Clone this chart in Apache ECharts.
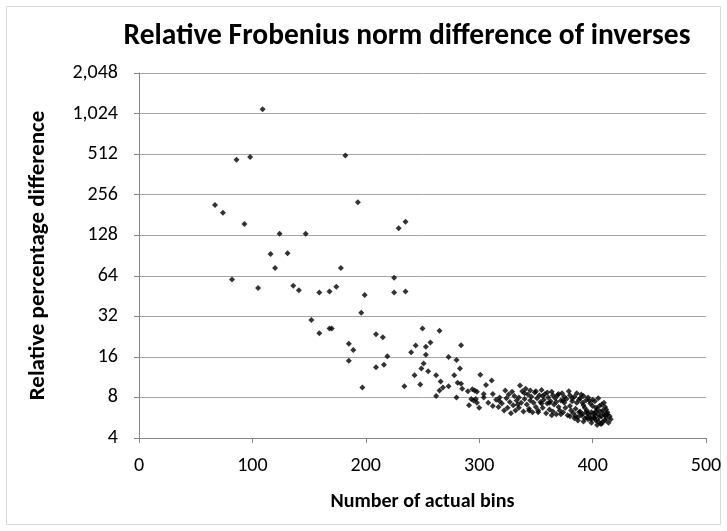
<!DOCTYPE html>
<html>
<head>
<meta charset="utf-8">
<script src="https://cdn.jsdelivr.net/npm/echarts@6/dist/echarts.min.js"></script>
<style>
  html, body { margin: 0; padding: 0; background: #fff; }
  #container { width: 727px; height: 531px; }
</style>
</head>
<body>
<div id="container"></div>
<script>
// tick labels
var xTicks = [0, 100, 200, 300, 400, 500]
var yTicks = [4, 8, 16, 32, 64, 128, 256, 512, 1024, 2048]

// number of actual bins (x) and relative percentage difference (y)
var actualBins = [
  109, 86, 98, 67, 74, 93, 124, 147, 116, 131,
  120, 82, 105, 136, 141, 159, 168, 152, 159, 168,
  174, 199, 196, 225, 235, 182, 193, 229, 235, 178, 225,
  170, 185, 189, 185, 197, 209, 215, 209, 216, 219, 234,
  250, 265, 240, 244, 253, 257, 253, 251, 249, 255, 243, 248, 262, 266, 268, 265, 262, 273, 273,
  284, 280, 283, 278, 281, 284, 285, 280, 290, 294, 296, 298, 293, 295, 297, 298, 291, 300,
  301, 306, 311, 304, 304, 308, 312, 312, 315, 318, 317,
  320, 322, 324, 325, 327, 328, 330, 331, 332, 333, 335, 336, 337, 338, 339, 340, 341, 342, 343, 344,
  345, 346, 347, 348, 349, 350, 351, 352, 353, 354, 355, 356, 357, 358, 359, 360, 361, 362, 363, 364,
  365, 366, 367, 368, 369, 370, 371, 372, 373, 374, 375, 376, 377, 378, 379, 380, 381, 382, 383, 384,
  385, 386, 387, 388, 389, 390, 391, 392, 393, 394, 395, 396, 397, 398, 399, 400, 401, 402, 403, 404,
  405, 406, 407, 408, 409, 410, 411, 412, 413, 414, 415, 416,
  382, 385, 388, 391, 393, 395, 397, 399, 401, 403, 405, 407, 409, 411, 396, 398, 402, 404, 406, 400,
  392, 386, 375, 370, 365, 360, 355, 350, 345, 340, 335, 326, 318, 323, 329, 334, 356, 362, 368, 374,
  380, 384, 389, 394, 410, 412, 408, 403,
  387, 392, 399, 402, 405, 408, 411, 413, 396, 390, 380, 372, 364, 352, 344
]
var relDiff = [
  1100, 465, 487, 215, 188, 155, 131, 131, 93, 94,
  73, 60, 52, 54, 50, 48, 49, 30, 24, 26,
  53, 46, 34, 48, 49, 500, 225, 144, 161, 73, 62,
  26, 20, 18, 15, 9.5, 23.6, 22.4, 13.4, 14, 16.2, 9.7,
  26, 25, 17.3, 19.4, 19, 20.5, 16.6, 14.3, 13.1, 12.5, 11.7, 10, 11.7, 10.5, 9.5, 9, 8.2, 9.7, 16,
  19.5, 15.2, 13.1, 11.7, 10.3, 10.1, 9.3, 8.0, 8.9, 9.2, 9.0, 8.8, 7.8, 7.6, 7.8, 7.3, 7.0, 6.7,
  11.8, 9.9, 10.7, 8.5, 8.0, 7.3, 8.5, 6.9, 7.7, 8.0, 6.8,
  7.2, 6.4, 7.9, 6.7, 7.4, 6.1, 7.0, 8.2, 6.4, 7.6, 6.7, 9.8, 7.3, 8.9, 6.3, 7.8, 9.3, 7.1, 8.4, 6.6,
  7.6, 8.1, 6.2, 7.3, 8.7, 6.8, 7.9, 6.4, 8.3, 7.4, 9.1, 6.7, 7.7, 8.5, 6.1, 7.2, 8.0, 6.5, 7.5, 8.8,
  6.3, 7.1, 7.9, 6.0, 8.3, 6.8, 6.4, 7.6, 8.6, 6.2, 7.3, 6.7, 7.8, 5.9, 8.9, 6.9, 6.4, 7.5, 6.1, 8.1,
  6.6, 7.3, 5.7, 7.7, 6.3, 8.4, 6.0, 7.0, 5.6, 7.6, 6.4, 8.0, 5.9, 7.2, 5.5, 6.9, 6.1, 7.5, 5.4, 6.5,
  7.9, 5.7, 6.3, 7.1, 5.3, 6.0, 6.8, 5.6, 6.2, 5.2, 5.8, 5.5,
  7.9, 5.8, 6.2, 7.3, 6.7, 5.7, 7.6, 6.2, 5.7, 6.7, 6.0, 5.1, 6.4, 5.9, 6.1, 5.6, 5.9, 5.0, 6.9, 7.7,
  8.2, 8.6, 8.1, 8.5, 8.3, 8.7, 7.2, 8.9, 9.0, 8.6, 8.0, 8.4, 7.5, 9.0, 8.8, 7.1, 8.2, 7.3, 7.4, 7.6,
  8.3, 5.6, 7.9, 6.2, 7.3, 6.5, 5.1, 6.3,
  5.4, 5.3, 5.2, 5.6, 5.3, 5.8, 5.4, 6.0, 5.5, 5.9, 5.8, 6.0, 5.9, 6.2, 6.4
]

var points = actualBins.map(function (x, i) { return [x, relDiff[i]] })

var dom = document.getElementById('container')
var myChart = echarts.init(dom, null, { renderer: 'canvas' })
var font = 'Carlito, "Liberation Sans", Arial, sans-serif'

var option = {
  animation: false,
  backgroundColor: '#fff',
  title: {
    text: 'Relative Frobenius norm difference of inverses',
    left: 402,
    top: 17,
    textAlign: 'center',
    textStyle: { fontFamily: font, fontSize: 29.5, fontWeight: 'bold', color: '#000' }
  },
  graphic: [
    {
      type: 'rect',
      shape: { x: 6.5, y: 6.5, width: 714, height: 518 },
      style: { fill: 'none', stroke: '#d9d9d9', lineWidth: 1 },
      silent: true
    }
  ],
  grid: { left: 139, right: 21, top: 73, bottom: 93 },
  xAxis: {
    type: 'value',
    min: xTicks[0],
    max: xTicks[xTicks.length - 1],
    interval: 100,
    name: 'Number of actual bins',
    nameLocation: 'middle',
    nameGap: 54,
    nameTextStyle: { fontFamily: font, fontSize: 20, fontWeight: 'bold', color: '#000' },
    axisLine: { lineStyle: { color: '#868686' } },
    axisTick: { show: true, length: 5, lineStyle: { color: '#868686' } },
    axisLabel: { fontFamily: font, fontSize: 20, color: '#000', margin: 18 },
    splitLine: { show: false }
  },
  yAxis: {
    type: 'log',
    logBase: 2,
    min: yTicks[0],
    max: yTicks[yTicks.length - 1],
    interval: 1,
    name: 'Relative percentage difference',
    nameLocation: 'middle',
    nameGap: 89,
    nameTextStyle: { fontFamily: font, fontSize: 23, fontWeight: 'bold', color: '#000' },
    axisLine: { show: true, lineStyle: { color: '#868686' } },
    axisTick: { show: true, length: 5, lineStyle: { color: '#868686' } },
    axisLabel: {
      fontFamily: font, fontSize: 20, color: '#000', margin: 21,
      formatter: function (v) { return Math.round(v).toLocaleString('en-US') }
    },
    splitLine: { show: true, lineStyle: { color: '#a6a6a6', width: 1 } }
  },
  series: [
    {
      type: 'scatter',
      data: points,
      symbol: 'diamond',
      symbolSize: 6,
      itemStyle: { color: '#000' },
      silent: true
    }
  ]
}

myChart.setOption(option)
window.addEventListener('resize', myChart.resize)
</script>
</body>
</html>
